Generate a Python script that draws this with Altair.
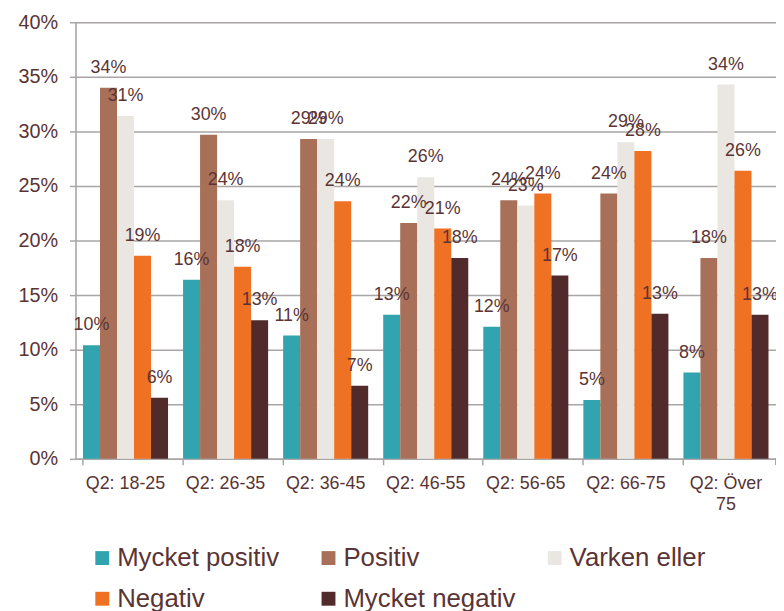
import altair as alt
import pandas as pd

groups = ["Q2: 18-25", "Q2: 26-35", "Q2: 36-45", "Q2: 46-55", "Q2: 56-65", "Q2: 66-75", "Q2: Över 75"]
series = ["Mycket positiv", "Positiv", "Varken eller", "Negativ", "Mycket negativ"]
mycket_positiv = [10.4, 16.4, 11.3, 13.2, 12.1, 5.4, 7.9]
positiv = [34.0, 29.7, 29.3, 21.6, 23.7, 24.3, 18.4]
varken_eller = [31.4, 23.7, 29.3, 25.8, 23.2, 29.0, 34.3]
negativ = [18.6, 17.6, 23.6, 21.1, 24.3, 28.2, 26.4]
mycket_negativ = [5.6, 12.7, 6.7, 18.4, 16.8, 13.3, 13.2]
colors = ["#31A4AF", "#A87058", "#EAE7E2", "#EE7124", "#512A2B"]
y_ticks = [0, 0.05, 0.10, 0.15, 0.20, 0.25, 0.30, 0.35, 0.40]

values_by_series = [mycket_positiv, positiv, varken_eller, negativ, mycket_negativ]
rows = []
for s, vals in zip(series, values_by_series):
    for g, v in zip(groups, vals):
        rows.append({"group": g, "series": s, "value": v / 100})
df = pd.DataFrame(rows)

TEXT = "#5A3434"
GRID = "#A9A5A5"
FONT = "Liberation Sans"
W, H = 706, 440

base = alt.Chart(df).encode(
    x=alt.X("group:N", sort=groups, title=None,
            scale=alt.Scale(paddingInner=0.15, paddingOuter=0.075),
            axis=alt.Axis(labelAngle=0, bandPosition=0,
                          labelFontSize=18, labelColor=TEXT, labelFont=FONT,
                          labelPadding=10, tickSize=6, tickColor=GRID, tickWidth=1.5,
                          domainColor=GRID, domainWidth=1.5, labelLineHeight=21,
                          labelExpr="datum.value == 'Q2: Över 75' ? ['Q2: Över', '75'] : datum.label")),
    xOffset=alt.XOffset("series:N", sort=series, scale=alt.Scale(paddingInner=0, paddingOuter=0)),
    y=alt.Y("value:Q", title=None,
            scale=alt.Scale(domain=[0, 0.4], nice=False),
            axis=alt.Axis(values=y_ticks, format=".0%", labelFontSize=20, labelColor=TEXT,
                          labelFont=FONT, labelPadding=12, tickSize=6, tickColor=GRID,
                          tickWidth=1.5, domainColor=GRID, domainWidth=1.5,
                          gridColor=GRID, gridWidth=1.5)),
)

bars = base.mark_bar().encode(
    color=alt.Color("series:N", sort=series,
                    scale=alt.Scale(domain=series, range=colors),
                    legend=alt.Legend(title=None, orient="none", legendX=14, legendY=527,
                                      direction="horizontal",
                                      columns=3, gridAlign="all", columnPadding=26,
                                      rowPadding=15, symbolType="square", symbolSize=196,
                                      symbolStrokeWidth=0, labelOffset=2,
                                      labelFontSize=26, labelColor=TEXT, labelFont=FONT,
                                      labelLimit=400))
)

labels = base.mark_text(baseline="alphabetic", dy=-15, fontSize=18, color=TEXT, font=FONT).encode(
    text=alt.Text("value:Q", format=".0%")
)

end_tick = alt.Chart(df).mark_rule(color=GRID, strokeWidth=1.5).encode(
    x=alt.value(W), y=alt.value(H), y2=alt.value(H + 6)
)

chart = alt.layer(bars, labels, end_tick).properties(
    width=W, height=H,
    autosize=alt.AutoSizeParams(type="none"),
    padding={"left": 68, "top": 12, "right": 0, "bottom": 151},
).configure_view(stroke=None).configure(background="white")

chart.save("out.html", embed_options={"renderer": "svg", "actions": False})
